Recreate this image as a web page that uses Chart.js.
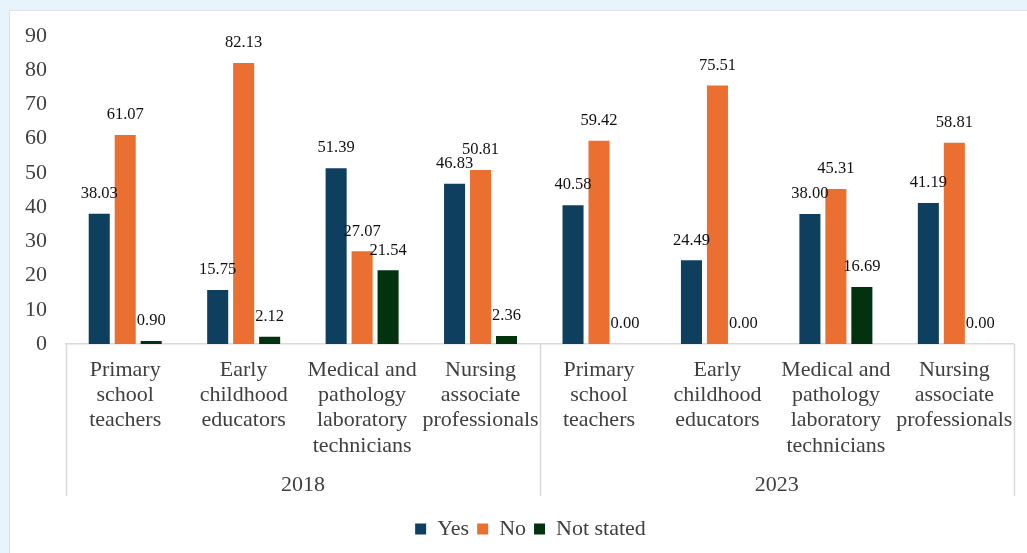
<!DOCTYPE html>
<html>
<head>
<meta charset="utf-8">
<script src="https://cdn.jsdelivr.net/npm/chart.js@4.4.1/dist/chart.umd.min.js"></script>
<style>
  html, body { margin: 0; padding: 0; }
  body { width: 1027px; height: 553px; background: #e8f4fc; position: relative; overflow: hidden; }
  #panel { position: absolute; left: 9px; top: 10px; width: 1030px; height: 560px; background: #fff; border: 1px solid #dde3e8; }
  #wrap { position: absolute; left: 0; top: 0; width: 1027px; height: 553px; }
</style>
</head>
<body>
<div id="panel"></div>
<div id="wrap"><canvas id="chart" width="1027" height="553"></canvas></div>
<script>
const occupations = [
  ["Primary", "school", "teachers"],
  ["Early", "childhood", "educators"],
  ["Medical and", "pathology", "laboratory", "technicians"],
  ["Nursing", "associate", "professionals"],
  ["Primary", "school", "teachers"],
  ["Early", "childhood", "educators"],
  ["Medical and", "pathology", "laboratory", "technicians"],
  ["Nursing", "associate", "professionals"]
];
const years = ["2018", "2023"];
const yesVals = [38.03, 15.75, 51.39, 46.83, 40.58, 24.49, 38.00, 41.19];
const noVals = [61.07, 82.13, 27.07, 50.81, 59.42, 75.51, 45.31, 58.81];
const notStatedVals = [0.90, 2.12, 21.54, 2.36, 0.00, 0.00, 16.69, 0.00];
const yTicks = [0, 10, 20, 30, 40, 50, 60, 70, 80, 90];

const SERIF = "'Liberation Serif', 'Times New Roman', serif";
const GREY = "#404040";
const LINE = "#d9d9d9";

Chart.defaults.font.family = SERIF;

// value labels above each bar
const valueLabels = {
  id: "valueLabels",
  afterDatasetsDraw(chart) {
    const ctx = chart.ctx;
    ctx.save();
    ctx.font = "16.5px " + SERIF;
    ctx.fillStyle = "#111";
    ctx.textAlign = "center";
    ctx.textBaseline = "middle";
    chart.data.datasets.forEach((ds, i) => {
      chart.getDatasetMeta(i).data.forEach((bar, j) => {
        ctx.fillText(ds.data[j].toFixed(2), bar.x, bar.y - 20);
      });
    });
    ctx.restore();
  }
};

// second level of the category axis: year groups and separators
const yearAxis = {
  id: "yearAxis",
  afterDraw(chart) {
    const ctx = chart.ctx;
    const x = chart.scales.x;
    const area = chart.chartArea;
    const mid = (x.getPixelForTick(3) + x.getPixelForTick(4)) / 2;
    const bottom = area.bottom + 152;
    ctx.save();
    ctx.strokeStyle = LINE;
    ctx.lineWidth = 1.5;
    [area.left, mid, area.right].forEach(px => {
      ctx.beginPath();
      ctx.moveTo(Math.round(px) + 0.5, area.bottom);
      ctx.lineTo(Math.round(px) + 0.5, bottom);
      ctx.stroke();
    });
    ctx.font = "22px " + SERIF;
    ctx.fillStyle = GREY;
    ctx.textAlign = "center";
    ctx.textBaseline = "middle";
    ctx.fillText(years[0], (area.left + mid) / 2, area.bottom + 141);
    ctx.fillText(years[1], (mid + area.right) / 2, area.bottom + 141);
    ctx.restore();
  }
};

// the legend sits a bit right of the canvas centre, as in the original
const legendShift = {
  id: "legendShift",
  afterLayout(chart) {
    chart.legend.left += 22;
    chart.legend.right += 22;
  }
};

const barOpts = { categoryPercentage: 0.658, barPercentage: 0.81, borderWidth: 0 };

new Chart(document.getElementById("chart"), {
  type: "bar",
  data: {
    labels: occupations,
    datasets: [
      Object.assign({ label: "Yes", data: yesVals, backgroundColor: "#0f3f5e" }, barOpts),
      Object.assign({ label: "No", data: noVals, backgroundColor: "#eb6f30" }, barOpts),
      Object.assign({ label: "Not stated", data: notStatedVals, backgroundColor: "#03320f" }, barOpts)
    ]
  },
  options: {
    responsive: false,
    animation: false,
    layout: { padding: { top: 36, right: 10, left: 0, bottom: 3 } },
    plugins: {
      tooltip: { enabled: false },
      legend: {
        position: "bottom",
        labels: {
          boxWidth: 11,
          boxHeight: 11,
          padding: 8,
          color: GREY,
          font: { family: SERIF, size: 22 }
        }
      }
    },
    scales: {
      x: {
        grid: { display: false, drawTicks: false },
        border: { display: true, color: LINE, width: 1.5 },
        ticks: {
          color: GREY,
          font: { family: SERIF, size: 22, lineHeight: 1.14 },
          padding: 14,
          maxRotation: 0,
          autoSkip: false
        },
        afterFit(s) { s.height = 166; }
      },
      y: {
        min: 0,
        max: 90,
        afterBuildTicks(s) { s.ticks = yTicks.map(v => ({ value: v })); },
        grid: { display: false, drawTicks: false },
        border: { display: false },
        ticks: {
          color: GREY,
          padding: 19,
          font: { family: SERIF, size: 22 }
        },
        afterFit(s) { s.width = 66; }
      }
    }
  },
  plugins: [valueLabels, yearAxis, legendShift]
});
</script>
</body>
</html>
